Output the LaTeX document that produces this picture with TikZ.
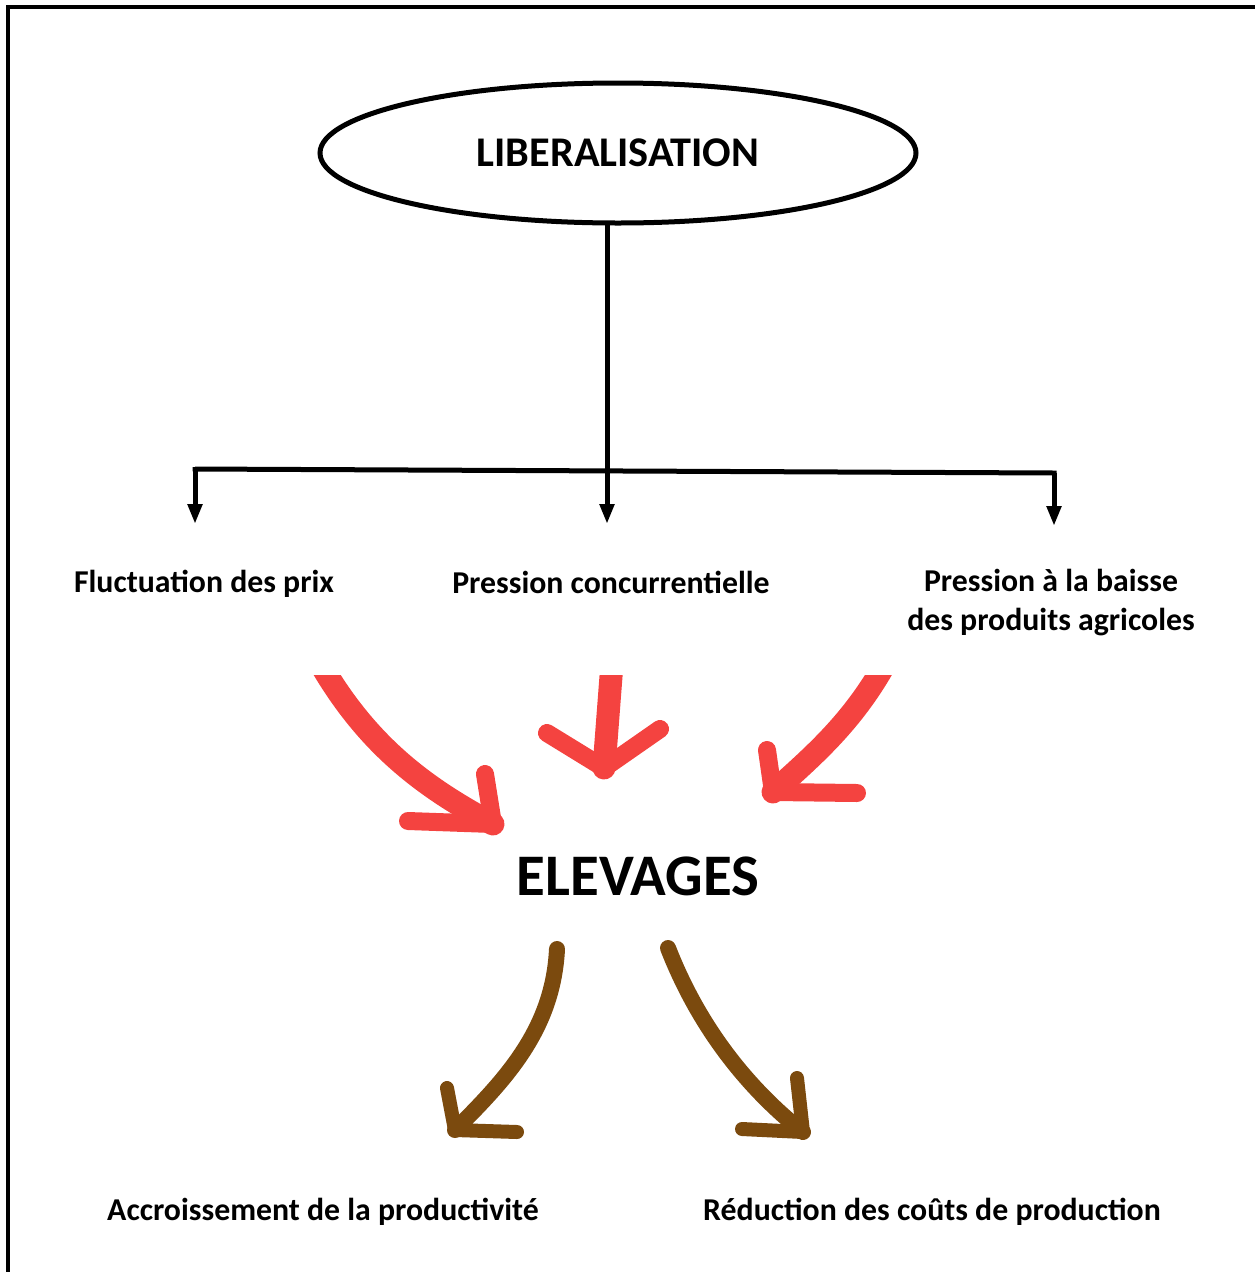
\documentclass[tikz,border=0pt]{standalone}
\usepackage{fontspec}
\setmainfont{Carlito}
\usetikzlibrary{arrows.meta,shapes.geometric}
\definecolor{redA}{HTML}{F44340}
\definecolor{brownA}{HTML}{7B4A0E}
\begin{document}
\begin{tikzpicture}[x=1pt,y=-1pt,
  lbl/.style={font=\fontsize{31.8}{39}\selectfont\bfseries, align=center, inner sep=0pt},
  blk/.style={line width=5pt, -{Triangle[length=20pt,width=14pt]}},
  redarr/.style={draw=redA, line width=23pt, line cap=round, line join=round},
  redbarb/.style={draw=redA, line width=18pt, line cap=round, line join=round},
  brarr/.style={draw=brownA, line width=16pt, line cap=round, line join=round},
  brbarb/.style={draw=brownA, line width=14pt, line cap=round, line join=round}]
\useasboundingbox (0,0) rectangle (1255,1272);
\draw[line width=3.5pt] (8,1300) -- (8,7) -- (1290,7);
% top ellipse
\node[ellipse, draw, line width=5pt, minimum width=596pt, minimum height=140pt, inner sep=0pt,
  font=\fontsize{42.3}{46}\selectfont\bfseries] (lib) at (618,153) {LIBERALISATION};
\coordinate (vtop) at (607,223);
\coordinate (vbot) at (607,470);
\coordinate (hl) at (195,469);
\coordinate (hr) at (1054,473);
\coordinate (a1) at (195,524);
\coordinate (a2) at (607,524);
\coordinate (a3) at (1054,526);
\draw[line width=5pt] (vtop) -- (vbot);
\draw[line width=5pt, line join=miter] (a1 |- hl) ++(0,-2) -- (hl) -- (hr) -- ++(0,2);
\draw[blk] (hl) -- (a1);
\draw[blk] (vbot) -- (a2);
\draw[blk] (hr) -- (a3);
% labels
\node[lbl] (t1) at (204,584) {Fluctuation des prix};
\node[lbl] (t2) at (611,582) {Pression concurrentielle};
\node[lbl] (t3) at (1051,603) {Pression à la baisse\\des produits agricoles};
\node[font=\fontsize{58.9}{64}\selectfont\bfseries, inner sep=0pt] (elev) at (638,876) {ELEVAGES};
\node[lbl] (b1) at (323,1212) {Accroissement de la productivité};
\node[lbl] (b2) at (932,1212) {Réduction des coûts de production};
% red hand-drawn arrows
\begin{scope}
\clip (0,675) rectangle (1255,1272);
\coordinate (r1s) at (310,645);
\coordinate (r1t) at (493,824);
\draw[redarr] (r1s) .. controls (360,740) and (420,785) .. (r1t);
\draw[redbarb] (408,821) -- (r1t) -- (485,774);
\coordinate (r2s) at (613,650);
\coordinate (r2t) at (604,768);
\draw[redarr] (r2s) -- (r2t);
\draw[redbarb] (547,733) -- (r2t) -- (660,729);
\coordinate (r3s) at (895,645);
\coordinate (r3t) at (773,792);
\draw[redarr] (r3s) .. controls (860,715) and (820,750) .. (r3t);
\draw[redbarb] (767,750) -- (r3t) -- (857,793);
\end{scope}
% brown arrows
\coordinate (b1s) at (557,949);
\coordinate (b1t) at (455,1130);
\draw[brarr] (b1s) .. controls (553,1030) and (505,1080) .. (b1t);
\draw[brbarb] (447,1088) -- (b1t) -- (517,1132);
\coordinate (b2s) at (668,948);
\coordinate (b2t) at (803,1132);
\draw[brarr] (b2s) .. controls (700,1030) and (750,1090) .. (b2t);
\draw[brbarb] (797,1078) -- (b2t) -- (742,1129);
\end{tikzpicture}
\end{document}
